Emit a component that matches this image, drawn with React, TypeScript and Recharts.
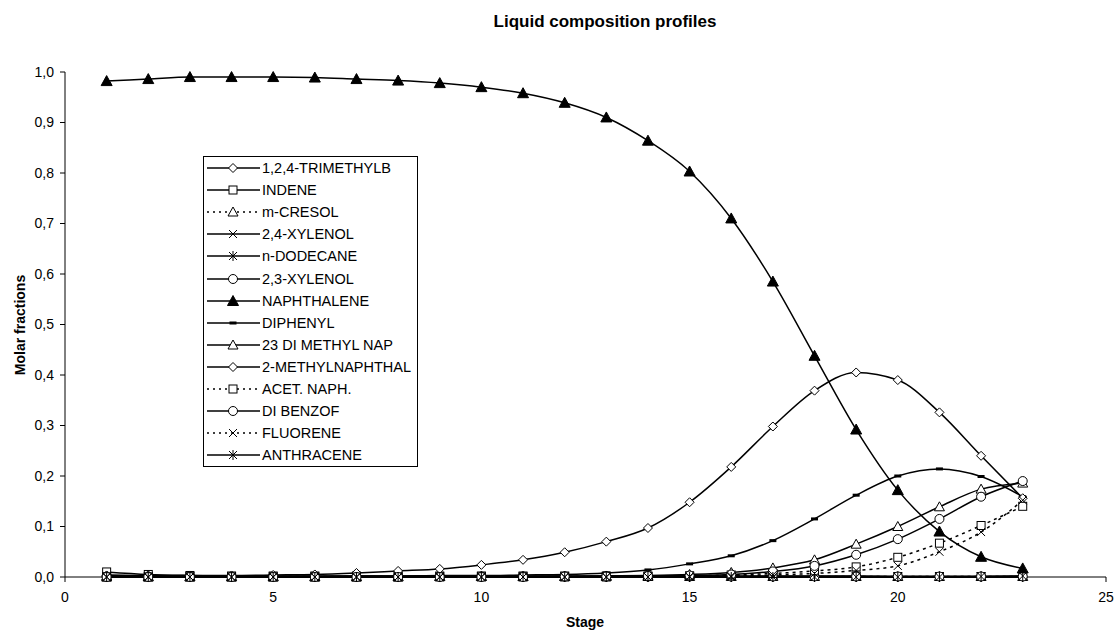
import { LineChart, Line, XAxis, YAxis, Legend } from "recharts";

// stages on the x axis
const stages = [1, 2, 3, 4, 5, 6, 7, 8, 9, 10, 11, 12, 13, 14, 15, 16, 17, 18, 19, 20, 21, 22, 23];

// molar fractions per component, stage 1..23
const trimethylb = [0.004, 0.002, 0.001, 0.001, 0.001, 0, 0, 0, 0, 0, 0, 0, 0, 0, 0, 0, 0, 0, 0, 0, 0, 0, 0];
const indene = [0.01, 0.005, 0.003, 0.002, 0.002, 0.002, 0.002, 0.002, 0.002, 0.002, 0.002, 0.002, 0.002, 0.002, 0.002, 0.002, 0.002, 0.002, 0.002, 0.001, 0.001, 0.001, 0.001];
const mCresol = [0.002, 0.001, 0.001, 0.001, 0.001, 0.001, 0.001, 0.001, 0.001, 0.001, 0.001, 0.001, 0.001, 0.001, 0.001, 0.001, 0.001, 0.001, 0.001, 0.001, 0.001, 0.001, 0.001];
const xylenol24 = [0.001, 0.001, 0.001, 0.001, 0.001, 0.001, 0.001, 0.001, 0.001, 0.001, 0.001, 0.001, 0.001, 0.001, 0.001, 0.001, 0.001, 0.001, 0.001, 0.001, 0.001, 0.001, 0.001];
const dodecane = [0.002, 0.001, 0.001, 0, 0, 0, 0, 0, 0, 0, 0, 0, 0, 0, 0, 0, 0, 0, 0, 0, 0, 0, 0];
const xylenol23 = [0.001, 0.001, 0.001, 0.001, 0.001, 0.001, 0.001, 0.001, 0.001, 0.001, 0.001, 0.001, 0.001, 0.001, 0.001, 0.001, 0.001, 0.001, 0.001, 0.001, 0.001, 0.001, 0.001];
const naphthalene = [0.982, 0.986, 0.99, 0.99, 0.99, 0.989, 0.986, 0.983, 0.978, 0.97, 0.958, 0.939, 0.91, 0.864, 0.803, 0.71, 0.585, 0.438, 0.292, 0.172, 0.09, 0.04, 0.017];
const diphenyl = [0.001, 0.001, 0.001, 0.001, 0.001, 0.001, 0.002, 0.002, 0.003, 0.003, 0.004, 0.005, 0.008, 0.014, 0.026, 0.042, 0.072, 0.115, 0.162, 0.2, 0.214, 0.199, 0.159];
const diMethylNap = [0, 0, 0, 0, 0, 0, 0, 0, 0.001, 0.001, 0.001, 0.001, 0.002, 0.003, 0.005, 0.009, 0.018, 0.034, 0.065, 0.1, 0.139, 0.174, 0.186];
const methylNaphthal = [0.003, 0.003, 0.003, 0.003, 0.004, 0.005, 0.008, 0.012, 0.016, 0.024, 0.034, 0.049, 0.07, 0.097, 0.148, 0.218, 0.298, 0.369, 0.405, 0.39, 0.326, 0.24, 0.156];
const acetNaph = [0, 0, 0, 0, 0, 0, 0, 0, 0, 0, 0, 0, 0, 0.001, 0.002, 0.004, 0.007, 0.012, 0.02, 0.039, 0.067, 0.102, 0.14];
const diBenzof = [0, 0, 0, 0, 0, 0, 0, 0, 0, 0, 0, 0.001, 0.001, 0.002, 0.003, 0.005, 0.011, 0.022, 0.044, 0.075, 0.115, 0.159, 0.19];
const fluorene = [0, 0, 0, 0, 0, 0, 0, 0, 0, 0, 0, 0, 0, 0, 0.001, 0.002, 0.004, 0.007, 0.013, 0.022, 0.05, 0.089, 0.152];
const anthracene = [0, 0, 0, 0, 0, 0, 0, 0, 0, 0, 0, 0, 0, 0, 0, 0, 0, 0, 0, 0, 0, 0.001, 0.002];

const xTicks = [0, 5, 10, 15, 20, 25];
const yTicks = [0, 0.1, 0.2, 0.3, 0.4, 0.5, 0.6, 0.7, 0.8, 0.9, 1.0];

type Shape = "diamond" | "square" | "triOpen" | "triFilled" | "x" | "star" | "circle" | "dash";

const series: { key: string; name: string; values: number[]; shape: Shape; dotted?: boolean }[] = [
  { key: "s1", name: "1,2,4-TRIMETHYLB", values: trimethylb, shape: "diamond" },
  { key: "s2", name: "INDENE", values: indene, shape: "square" },
  { key: "s3", name: "m-CRESOL", values: mCresol, shape: "triOpen", dotted: true },
  { key: "s4", name: "2,4-XYLENOL", values: xylenol24, shape: "x" },
  { key: "s5", name: "n-DODECANE", values: dodecane, shape: "star" },
  { key: "s6", name: "2,3-XYLENOL", values: xylenol23, shape: "circle" },
  { key: "s7", name: "NAPHTHALENE", values: naphthalene, shape: "triFilled" },
  { key: "s8", name: "DIPHENYL", values: diphenyl, shape: "dash" },
  { key: "s9", name: "23 DI METHYL NAP", values: diMethylNap, shape: "triOpen" },
  { key: "s10", name: "2-METHYLNAPHTHAL", values: methylNaphthal, shape: "diamond" },
  { key: "s11", name: "ACET. NAPH.", values: acetNaph, shape: "square", dotted: true },
  { key: "s12", name: "DI BENZOF", values: diBenzof, shape: "circle" },
  { key: "s13", name: "FLUORENE", values: fluorene, shape: "x", dotted: true },
  { key: "s14", name: "ANTHRACENE", values: anthracene, shape: "star" },
];

const data = stages.map((stage, i) => {
  const row: Record<string, number> = { stage };
  series.forEach((s) => (row[s.key] = s.values[i]));
  return row;
});

const FONT = '"Liberation Sans", Arial, sans-serif';

function markerShape(shape: Shape, cx: number, cy: number) {
  const k = { stroke: "#000", strokeWidth: 1 };
  switch (shape) {
    case "diamond":
      return <polygon points={`${cx},${cy - 4.5} ${cx + 4.5},${cy} ${cx},${cy + 4.5} ${cx - 4.5},${cy}`} fill="#fff" {...k} />;
    case "square":
      return <rect x={cx - 4} y={cy - 4} width={8} height={8} fill="#fff" {...k} />;
    case "triOpen":
      return <polygon points={`${cx},${cy - 5} ${cx + 5},${cy + 4} ${cx - 5},${cy + 4}`} fill="#fff" {...k} />;
    case "triFilled":
      return <polygon points={`${cx},${cy - 5.5} ${cx + 5.5},${cy + 4.5} ${cx - 5.5},${cy + 4.5}`} fill="#000" {...k} />;
    case "x":
      return (
        <g {...k}>
          <line x1={cx - 4} y1={cy - 4} x2={cx + 4} y2={cy + 4} />
          <line x1={cx - 4} y1={cy + 4} x2={cx + 4} y2={cy - 4} />
        </g>
      );
    case "star":
      return (
        <g {...k}>
          <line x1={cx - 4} y1={cy - 4} x2={cx + 4} y2={cy + 4} />
          <line x1={cx - 4} y1={cy + 4} x2={cx + 4} y2={cy - 4} />
          <line x1={cx} y1={cy - 5} x2={cx} y2={cy + 5} />
        </g>
      );
    case "circle":
      return <circle cx={cx} cy={cy} r={4.5} fill="#fff" {...k} />;
    case "dash":
      return <rect x={cx - 3.5} y={cy - 1.5} width={7} height={3} fill="#000" />;
  }
}

const makeDot = (shape: Shape) => (props: any) => {
  const { cx, cy, index } = props;
  if (cx == null || cy == null) return <g key={`d${index}`} />;
  return <g key={`d${index}`}>{markerShape(shape, cx, cy)}</g>;
};

function LegendBox() {
  return (
    <div style={{ border: "1px solid #000", background: "#fff", width: 213, fontFamily: FONT, fontSize: 14.5 }}>
      {series.map((s) => (
        <div key={s.key} style={{ height: 22.1, display: "flex", alignItems: "center" }}>
          <svg width={58} height={22} style={{ flex: "none" }}>
            <line x1={3} y1={11} x2={56} y2={11} stroke="#000" strokeWidth={1.5} strokeDasharray={s.dotted ? "2 4" : undefined} />
            {markerShape(s.shape, 29, 11)}
          </svg>
          <span style={{ whiteSpace: "nowrap", color: "#000" }}>{s.name}</span>
        </div>
      ))}
    </div>
  );
}

export default function App() {
  return (
    <div style={{ position: "absolute", left: 0, top: 0, width: 1114, height: 630, background: "#fff", fontFamily: FONT }}>
      <div style={{ position: "absolute", left: 0, width: 1114, top: 12, textAlign: "center", fontWeight: "bold", fontSize: 17, paddingLeft: 96, boxSizing: "border-box" }}>
        Liquid composition profiles
      </div>
      <LineChart width={1114} height={630} data={data} margin={{ top: 72, right: 8, left: 0, bottom: 23 }}>
        <XAxis
          dataKey="stage"
          type="number"
          domain={[0, 25]}
          ticks={xTicks}
          interval={0}
          stroke="#000"
          tickSize={5}
          tickMargin={10}
          height={30}
          tick={{ fill: "#000", fontSize: 14, fontFamily: FONT }}
        />
        <YAxis
          type="number"
          domain={[0, 1]}
          ticks={yTicks}
          interval={0}
          width={65}
          stroke="#000"
          tickSize={5}
          tickMargin={6}
          tickFormatter={(v: number) => v.toFixed(1).replace(".", ",")}
          tick={{ fill: "#000", fontSize: 14, fontFamily: FONT }}
        />
        <Legend
          layout="vertical"
          align="center"
          verticalAlign="middle"
          content={() => <LegendBox />}
          wrapperStyle={{ left: 203, top: 156, width: 215 }}
        />
        {series.map((s) => (
          <Line
            key={s.key}
            dataKey={s.key}
            name={s.name}
            type="monotone"
            stroke="#000"
            strokeWidth={1.5}
            strokeDasharray={s.dotted ? "3 4" : undefined}
            dot={makeDot(s.shape)}
            activeDot={false}
            isAnimationActive={false}
          />
        ))}
      </LineChart>
      <div style={{ position: "absolute", left: 0, width: 1170, top: 614, textAlign: "center", fontWeight: "bold", fontSize: 14 }}>
        Stage
      </div>
      <div
        style={{
          position: "absolute",
          left: 20,
          top: 325,
          transform: "translate(-50%, -50%) rotate(-90deg)",
          fontWeight: "bold",
          fontSize: 14,
          whiteSpace: "nowrap",
        }}
      >
        Molar fractions
      </div>
    </div>
  );
}
